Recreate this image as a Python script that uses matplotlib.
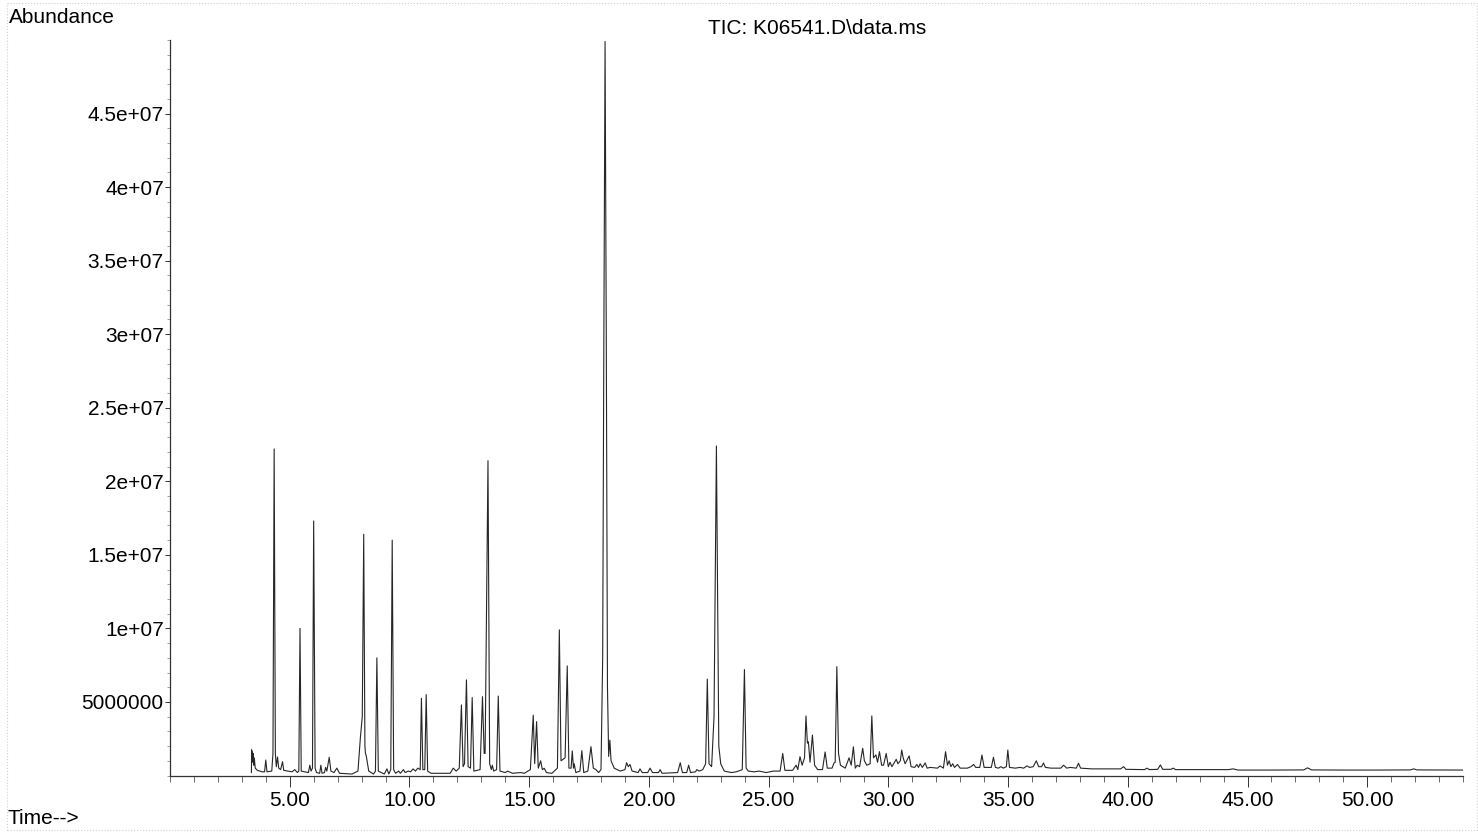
import numpy as np
import matplotlib
matplotlib.use("Agg")
import matplotlib.pyplot as plt
from matplotlib.ticker import MultipleLocator
from matplotlib.patches import Rectangle

plt.rcParams['font.family'] = ['Liberation Sans', 'DejaVu Sans']

# Chromatogram trace (retention time [min], abundance)
rt_a = [3.40, 3.41, 3.43, 3.44, 3.46, 3.47, 3.50, 3.52, 3.56, 3.65, 3.85,
        3.95, 4.00, 4.05, 4.25, 4.30, 4.35, 4.40, 4.44, 4.49, 4.54, 4.62, 4.70, 4.75,
        5.10, 5.21, 5.32, 5.38, 5.43, 5.48, 5.78, 5.84, 5.89,
        5.95, 6.00, 6.06, 6.12, 6.25, 6.30, 6.35, 6.45, 6.50, 6.55, 6.65, 6.72, 6.85,
        6.97, 7.08, 7.60, 7.85, 7.95, 8.03, 8.09, 8.14, 8.16, 8.20, 8.30, 8.50,
        8.58, 8.64, 8.70, 8.95, 9.06, 9.14, 9.22, 9.28, 9.34, 9.42, 9.55, 9.62,
        9.75, 9.82, 9.95, 10.05, 10.15, 10.25, 10.35, 10.45, 10.50, 10.56, 10.64,
        10.70, 10.76, 10.90, 11.70, 11.83, 11.95]
ab_a = [0.2, 1.75, 1.1, 1.6, 0.9, 1.5, 0.7, 1.2, 0.5, 0.35, 0.25,
        0.25, 1.05, 0.25, 0.3, 1.5, 22.2, 1.5, 0.6, 1.26, 0.5, 0.4, 0.94, 0.35,
        0.25, 0.4, 0.2, 0.3, 10.0, 0.3, 0.2, 0.7, 0.3,
        0.5, 17.3, 0.5, 0.2, 0.15, 0.7, 0.15, 0.2, 0.55, 0.3, 1.24, 0.3, 0.2,
        0.5, 0.15, 0.1, 0.3, 2.55, 4.0, 16.4, 2.0, 1.55, 1.3, 0.3, 0.1,
        0.3, 8.0, 0.3, 0.1, 0.45, 0.1, 0.4, 16.0, 0.4, 0.15, 0.3, 0.15,
        0.4, 0.2, 0.3, 0.25, 0.45, 0.3, 0.5, 0.4, 5.25, 0.4, 0.4,
        5.5, 0.3, 0.15, 0.15, 0.5, 0.3]

rt_b = [12.08, 12.17, 12.24, 12.30, 12.38, 12.45, 12.55, 12.62, 12.69, 12.95,
        13.05, 13.12, 13.16, 13.28, 13.35, 13.42, 13.46, 13.52, 13.64, 13.71, 13.78,
        14.00, 14.10, 14.30, 14.65, 14.80, 15.05, 15.17, 15.23, 15.31, 15.38, 15.48,
        15.55, 15.63, 15.72, 15.95, 16.18, 16.26, 16.33, 16.50, 16.59, 16.66, 16.75,
        16.80, 16.85, 16.88, 16.95, 17.12, 17.20, 17.28, 17.45, 17.58, 17.68, 17.79,
        17.90, 18.00, 18.07, 18.12, 18.17, 18.22, 18.27, 18.32, 18.37, 18.42, 18.55,
        18.80, 19.00, 19.07, 19.14, 19.21, 19.30, 19.55, 19.63, 19.72, 19.95, 20.05,
        20.15, 20.40, 20.47, 20.55, 21.20, 21.31, 21.40, 21.58, 21.66, 21.74, 21.95,
        22.00, 22.10, 22.25]
ab_b = [0.5, 4.8, 0.6, 0.8, 6.5, 0.6, 0.5, 5.3, 0.3, 0.4,
        5.36, 1.5, 1.5, 21.4, 0.8, 0.4, 0.7, 0.3, 0.4, 5.4, 0.3,
        0.2, 0.3, 0.15, 0.2, 0.15, 0.4, 4.1, 0.8, 3.66, 0.5, 1.0,
        0.4, 0.49, 0.2, 0.15, 0.5, 9.9, 1.0, 1.2, 7.45, 0.5, 0.5,
        1.67, 0.5, 0.8, 0.2, 0.3, 1.69, 0.2, 0.3, 1.96, 0.5, 0.4,
        0.2, 0.4, 8.0, 30.0, 49.9, 30.0, 6.0, 1.3, 2.4, 1.0, 0.5,
        0.3, 0.4, 0.87, 0.6, 0.75, 0.3, 0.2, 0.45, 0.2, 0.2, 0.5,
        0.2, 0.2, 0.4, 0.15, 0.2, 0.87, 0.2, 0.2, 0.7, 0.2, 0.25,
        0.4, 0.3, 0.4]

rt_c = [22.37, 22.44, 22.51, 22.62, 22.72, 22.78, 22.82, 22.87, 22.92, 23.00,
        23.15, 23.45, 23.65, 23.90, 23.99, 24.06, 24.15, 24.40, 24.60, 24.90, 25.20,
        25.48, 25.59, 25.68, 26.00, 26.15, 26.22, 26.31, 26.40, 26.50, 26.56, 26.62,
        26.66, 26.73, 26.83, 26.92, 27.05, 27.25, 27.36, 27.45, 27.65, 27.73, 27.78,
        27.85, 27.92, 28.00, 28.20, 28.36, 28.45, 28.54, 28.62, 28.70, 28.80, 28.93,
        29.00, 29.10, 29.24, 29.31, 29.38, 29.48, 29.55, 29.63, 29.72, 29.80, 29.91,
        30.00, 30.07, 30.15, 30.33, 30.40, 30.50, 30.56, 30.62, 30.70, 30.87, 30.95,
        31.10, 31.19, 31.26, 31.33, 31.42, 31.54, 31.62, 31.75, 32.05, 32.16, 32.30,
        32.39, 32.47, 32.54, 32.61, 32.69, 32.76, 32.89, 33.00]
ab_c = [0.8, 6.55, 0.8, 0.6, 4.0, 15.0, 22.4, 12.0, 2.0, 0.8,
        0.3, 0.2, 0.25, 0.4, 7.2, 0.5, 0.3, 0.25, 0.3, 0.2, 0.3,
        0.3, 1.5, 0.35, 0.35, 0.7, 0.4, 1.28, 0.7, 1.2, 4.05, 2.2,
        2.3, 0.9, 2.75, 0.7, 0.4, 0.4, 1.6, 0.5, 0.5, 0.85, 0.9,
        7.4, 1.5, 0.7, 0.5, 1.2, 0.7, 1.95, 0.5, 0.7, 0.6, 1.85,
        1.0, 0.7, 0.8, 4.05, 1.2, 1.4, 0.9, 1.62, 0.7, 0.7, 1.5,
        0.6, 0.9, 0.6, 1.1, 0.8, 1.0, 1.73, 1.2, 0.8, 1.33, 0.6,
        0.55, 0.75, 0.55, 0.8, 0.55, 0.85, 0.5, 0.55, 0.5, 0.65, 0.5,
        1.62, 0.7, 1.0, 0.6, 0.8, 0.55, 0.75, 0.5]

rt_d = [33.30, 33.45, 33.56, 33.65, 33.82, 33.91, 34.00, 34.30, 34.39, 34.47,
        34.60, 34.70, 34.80, 34.93, 34.99, 35.06, 35.30, 35.50, 35.65, 35.79, 35.90,
        36.05, 36.18, 36.28, 36.40, 36.48, 36.56, 36.80, 37.20, 37.32, 37.45, 37.60,
        37.85, 37.94, 38.03, 38.50, 39.00, 39.70, 39.83, 39.92, 40.70, 40.80, 40.90,
        41.25, 41.36, 41.46, 41.80, 41.90, 42.00, 43.00, 44.20, 44.40, 44.60, 46.00,
        47.35, 47.51, 47.68, 49.00, 50.50, 51.80, 51.94, 52.08, 54.00]
ab_d = [0.5, 0.6, 0.75, 0.55, 0.55, 1.39, 0.55, 0.55, 1.24, 0.55,
        0.5, 0.6, 0.5, 0.6, 1.73, 0.55, 0.5, 0.55, 0.5, 0.65, 0.55,
        0.6, 1.0, 0.6, 0.6, 0.85, 0.55, 0.5, 0.5, 0.7, 0.5, 0.55,
        0.5, 0.83, 0.5, 0.45, 0.45, 0.45, 0.6, 0.42, 0.4, 0.5, 0.4,
        0.42, 0.72, 0.42, 0.42, 0.5, 0.4, 0.4, 0.4, 0.45, 0.37, 0.37,
        0.38, 0.52, 0.38, 0.37, 0.37, 0.38, 0.45, 0.38, 0.37]

x_ticks = [5, 10, 15, 20, 25, 30, 35, 40, 45, 50]
y_ticks = [5e6, 1e7, 1.5e7, 2e7, 2.5e7, 3e7, 3.5e7, 4e7, 4.5e7]
y_tick_labels = ['5000000', '1e+07', '1.5e+07', '2e+07', '2.5e+07',
                 '3e+07', '3.5e+07', '4e+07', '4.5e+07']

rt = np.array(rt_a + rt_b + rt_c + rt_d)
ab = np.array(ab_a + ab_b + ab_c + ab_d) * 1e6

W, H = 1478, 835
fig = plt.figure(figsize=(W / 100, H / 100), dpi=100)
ax = fig.add_axes([170 / W, 1 - 775.5 / H, (1463 - 170) / W, (775.5 - 40) / H])

ax.plot(rt, ab, color='#262626', linewidth=0.8)

ax.set_xlim(0, 54)
ax.set_ylim(0, 5e7)
ax.spines['top'].set_visible(False)
ax.spines['right'].set_visible(False)
for s in ('left', 'bottom'):
    ax.spines[s].set_linewidth(0.9)
    ax.spines[s].set_color('#333333')

ax.set_xticks(x_ticks)
ax.set_xticklabels(['%.2f' % t for t in x_ticks])
ax.xaxis.set_minor_locator(MultipleLocator(1))
ax.set_yticks(y_ticks)
ax.set_yticklabels(y_tick_labels)
ax.yaxis.set_minor_locator(MultipleLocator(1e6))

ax.tick_params(axis='x', which='major', length=8, width=0.7, pad=3,
               labelsize=15, colors='#333333', labelcolor='black')
ax.tick_params(axis='x', which='minor', length=4, width=0.6, colors='#555555')
ax.tick_params(axis='y', which='major', length=3.5, width=0.7, pad=1,
               labelsize=15, colors='#333333', labelcolor='black')
ax.tick_params(axis='y', which='minor', length=2, width=0.5, colors='#777777')

fig.text(9 / W, 1 - 23 / H, 'Abundance', fontsize=15, va='baseline', ha='left')
fig.text(7 / W, 1 - 824 / H, 'Time-->', fontsize=15, va='baseline', ha='left')
fig.text(817 / W, 1 - 34 / H, 'TIC: K06541.D\\data.ms', fontsize=15,
         va='baseline', ha='center')

# faint frame of the printout
fig.patches.append(Rectangle((7 / W, 1 - 830 / H), (1477 - 7) / W, (830 - 3) / H,
                             transform=fig.transFigure, fill=False,
                             edgecolor='#d0d0d0', linewidth=0.8, linestyle=':'))

fig.savefig('out.png', dpi=100)
